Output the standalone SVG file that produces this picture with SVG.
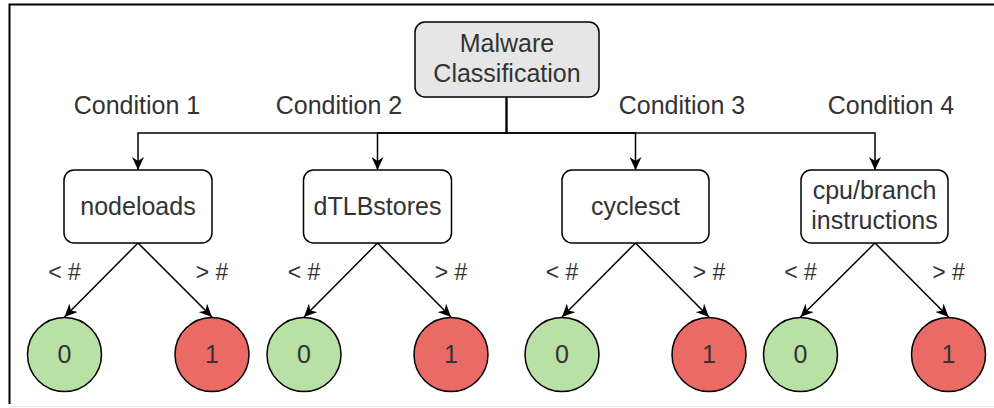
<svg xmlns="http://www.w3.org/2000/svg" width="994" height="408" viewBox="0 0 994 408">
<style>
text{font-family:"Liberation Sans",Arial,sans-serif;font-size:25px;fill:#333333;text-anchor:middle}
.box{fill:#ffffff;stroke:#000000;stroke-width:1.5}
.root{fill:#e6e6e6;stroke:#000000;stroke-width:1.5}
.g{fill:#b9e0a5;stroke:#000000;stroke-width:1.5}
.r{fill:#ea6b66;stroke:#000000;stroke-width:1.5}
.e{fill:none;stroke:#000000;stroke-width:1.5;marker-end:url(#arr)}
.lbl{font-size:23px}
</style>
<defs>
<marker id="arr" markerUnits="userSpaceOnUse" markerWidth="14" markerHeight="12" refX="13" refY="6" orient="auto">
<path d="M0,0 L13,6 L0,12 L4,6 z" fill="#000000"/>
</marker>
</defs>
<rect x="0" y="0" width="994" height="408" fill="#ffffff"/>
<path d="M9.5,404 V4.5 H994" fill="none" stroke="#000000" stroke-width="2"/>
<path d="M10,406.5 H994" fill="none" stroke="#e8e8e8" stroke-width="1"/>

<g id="connectors">
<path class="e" d="M506.5,97 V133 H138 V170"/>
<path class="e" d="M506.5,97 V133 H377.5 V170"/>
<path class="e" d="M506.5,97 V133 H635.5 V170"/>
<path class="e" d="M506.5,97 V133 H875 V170"/>
<path class="e" d="M138,243 L64.5,317"/>
<path class="e" d="M138,243 L212,317"/>
<path class="e" d="M377.5,243 L304,317"/>
<path class="e" d="M377.5,243 L451,317"/>
<path class="e" d="M635.5,243 L562,317"/>
<path class="e" d="M635.5,243 L709,317"/>
<path class="e" d="M875,243 L800.5,317"/>
<path class="e" d="M875,243 L948.5,317"/>
<text x="137" y="114">Condition 1</text>
<text x="339" y="114">Condition 2</text>
<text x="682" y="114">Condition 3</text>
<text x="891" y="114">Condition 4</text>
<text class="lbl" x="64.5" y="280">&lt; #</text>
<text class="lbl" x="212" y="280">&gt; #</text>
<text class="lbl" x="304" y="280">&lt; #</text>
<text class="lbl" x="451" y="280">&gt; #</text>
<text class="lbl" x="562" y="280">&lt; #</text>
<text class="lbl" x="709" y="280">&gt; #</text>
<text class="lbl" x="800.5" y="280">&lt; #</text>
<text class="lbl" x="948.5" y="280">&gt; #</text>
</g>

<g id="root">
<rect class="root" x="415" y="22" width="184" height="75" rx="10"/>
<text x="507" y="52">Malware</text>
<text x="507" y="82">Classification</text>
</g>
<g id="nodeloads">
<rect class="box" x="64" y="170" width="148" height="73" rx="10"/>
<text x="138" y="215">nodeloads</text>
</g>
<g id="dtlbstores">
<rect class="box" x="303.5" y="170" width="148" height="73" rx="10"/>
<text x="377.5" y="215">dTLBstores</text>
</g>
<g id="cyclesct">
<rect class="box" x="562" y="170" width="147" height="73" rx="10"/>
<text x="635.5" y="215">cyclesct</text>
</g>
<g id="cpubranch">
<rect class="box" x="801" y="170" width="147" height="73" rx="10"/>
<text x="874.5" y="199">cpu/branch</text>
<text x="874.5" y="229">instructions</text>
</g>
<g id="leaf1a"><circle class="g" cx="64.5" cy="354.5" r="37"/><text x="64.5" y="363">0</text></g>
<g id="leaf1b"><circle class="r" cx="212" cy="354.5" r="37"/><text x="212" y="363">1</text></g>
<g id="leaf2a"><circle class="g" cx="304" cy="354.5" r="37"/><text x="304" y="363">0</text></g>
<g id="leaf2b"><circle class="r" cx="451" cy="354.5" r="37"/><text x="451" y="363">1</text></g>
<g id="leaf3a"><circle class="g" cx="562" cy="354.5" r="37"/><text x="562" y="363">0</text></g>
<g id="leaf3b"><circle class="r" cx="709" cy="354.5" r="37"/><text x="709" y="363">1</text></g>
<g id="leaf4a"><circle class="g" cx="800.5" cy="354.5" r="37"/><text x="800.5" y="363">0</text></g>
<g id="leaf4b"><circle class="r" cx="948.5" cy="354.5" r="37"/><text x="948.5" y="363">1</text></g>
</svg>
